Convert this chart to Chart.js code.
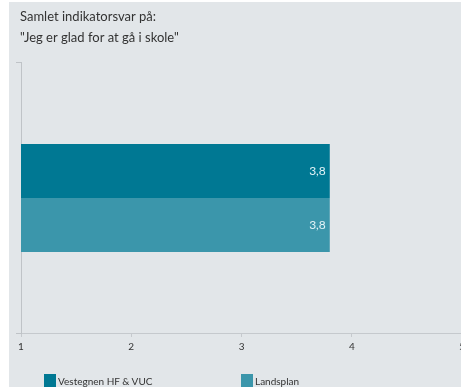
<!DOCTYPE html>
<html>
<head>
<meta charset="utf-8">
<script src="https://cdn.jsdelivr.net/npm/chart.js@4.4.1/dist/chart.umd.min.js"></script>
<style>
  html, body { margin: 0; padding: 0; background: #fff; overflow: hidden; }
  #wrap { position: absolute; left: 9px; top: 2px; width: 452px; height: 385px; background: #e2e6e9; overflow: hidden; }
  #box { position: absolute; left: 0; top: 0; width: 460px; height: 385px; }
  #legend { position: absolute; left: 0; top: 372px; padding-left: 35px; display: flex; font-family: Lato, sans-serif; font-size: 10px; color: #333; }
  #legend .item { width: 197px; display: flex; align-items: center; }
  #legend .sw { width: 12px; height: 13px; margin-right: 2px; }
</style>
</head>
<body>
<div id="wrap">
  <div id="box"><canvas id="bars"></canvas></div>
  <div id="legend"></div>
</div>
<script>
let titleLines = ['Samlet indikatorsvar på:', '"Jeg er glad for at gå i skole"'];
let categories = [''];
let seriesNames = ['Vestegnen HF & VUC', 'Landsplan'];
let vestegnen = [3.8];
let landsplan = [3.8];
let seriesColors = ['#007893', '#3b96ab'];
let xTicks = [1, 2, 3, 4, 5];

// writes "3,8" inside the end of each bar
const valueLabels = {
  id: 'valueLabels',
  afterDatasetsDraw(chart) {
    const ctx = chart.ctx;
    ctx.save();
    ctx.font = '12px Lato, sans-serif';
    ctx.fillStyle = '#e3f3f7';
    ctx.textAlign = 'right';
    ctx.textBaseline = 'middle';
    chart.data.datasets.forEach((ds, i) => {
      chart.getDatasetMeta(i).data.forEach((bar, j) => {
        const txt = ds.data[j].toFixed(1).replace('.', ',');
        ctx.fillText(txt, bar.x - 4, bar.y);
      });
    });
    ctx.restore();
  }
};

// simple html legend built from the datasets
const htmlLegend = {
  id: 'htmlLegend',
  afterUpdate(chart) {
    const box = document.getElementById('legend');
    box.innerHTML = '';
    chart.data.datasets.forEach(ds => {
      const item = document.createElement('div');
      item.className = 'item';
      const sw = document.createElement('span');
      sw.className = 'sw';
      sw.style.background = ds.backgroundColor;
      const txt = document.createElement('span');
      txt.textContent = ds.label;
      item.appendChild(sw);
      item.appendChild(txt);
      box.appendChild(item);
    });
  }
};

const ctx = document.getElementById('bars').getContext('2d');
const chart = new Chart(ctx, {
  type: 'bar',
  data: {
    labels: categories,
    datasets: [
      { label: seriesNames[0], data: vestegnen, backgroundColor: seriesColors[0] },
      { label: seriesNames[1], data: landsplan, backgroundColor: seriesColors[1] }
    ]
  },
  options: {
    indexAxis: 'y',
    responsive: true,
    maintainAspectRatio: false,
    animation: false,
    categoryPercentage: 0.4,
    barPercentage: 1.0,
    layout: { padding: { left: 11, right: 0, top: 0, bottom: 30 } },
    scales: {
      x: {
        min: 1,
        max: 5,
        afterBuildTicks: axis => { axis.ticks = xTicks.map(v => ({ value: v })); },
        grid: { drawOnChartArea: false, tickLength: 4, color: '#c5c9cd' },
        border: { color: '#c5c9cd', width: 1 },
        ticks: { color: '#333', font: { family: 'Lato', size: 10 }, padding: 4 }
      },
      y: {
        afterFit: axis => { axis.width = 1; },
        grid: { drawOnChartArea: false, tickLength: 5, color: '#bfc3c7' },
        border: { color: '#bfc3c7', width: 1 },
        ticks: { display: false }
      }
    },
    plugins: {
      legend: { display: false },
      tooltip: { enabled: false },
      title: {
        display: true,
        text: titleLines,
        align: 'start',
        color: '#333',
        font: { family: 'Lato', size: 13, weight: 'normal', lineHeight: 1.65 },
        padding: { top: 4, bottom: 14 }
      }
    }
  },
  plugins: [valueLabels, htmlLegend]
});
</script>
</body>
</html>
